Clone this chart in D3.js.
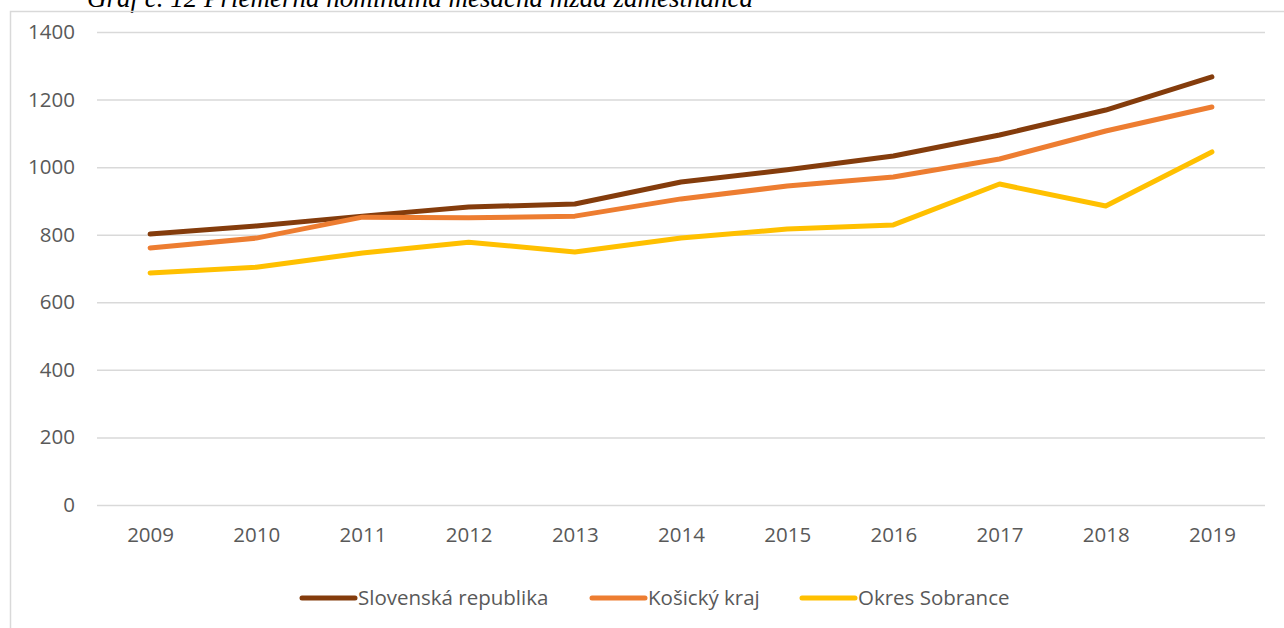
<!DOCTYPE html>
<html lang="sk">
<head>
  <meta charset="UTF-8">
  <title>Priemerná nominálna mesačná mzda</title>
  <style>
    body { margin: 0; background: #fff; }
    svg { display: block; }
    .tick text, .lbl { font-family: "Open Sans", sans-serif; fill: #595959; }
  </style>
</head>
<body>
  <div class="chart"></div>
  <script src="https://cdnjs.cloudflare.com/ajax/libs/d3/7.8.5/d3.min.js"></script>
  <script>
    // data
    const years = ["2009","2010","2011","2012","2013","2014","2015","2016","2017","2018","2019"];
    const slovensko = [802, 826, 855, 882, 891, 956, 992, 1033, 1095, 1169, 1267];
    const kosice    = [761, 790, 852, 850, 855, 906, 944, 971, 1024, 1107, 1178];
    const sobrance  = [687, 704, 746, 778, 749, 790, 817, 829, 950, 885, 1045];
    const yTicks = [0, 200, 400, 600, 800, 1000, 1200, 1400];
    const seriesNames = ["Slovenská republika", "Košický kraj", "Okres Sobrance"];
    const colors = ["#843c0c", "#ed7d31", "#ffc000"];

    const series = [slovensko, kosice, sobrance].map((v, i) => ({
      name: seriesNames[i], color: colors[i], values: v
    }));

    const W = 1284, H = 628;
    const fs = 20.5;
    const svg = d3.select('.chart').append('svg')
      .attr('width', W).attr('height', H);

    // caption, cut off by the top edge like in the source
    svg.append('text')
      .attr('x', 87).attr('y', 7)
      .attr('font-family', '"Liberation Serif", serif')
      .attr('font-style', 'italic')
      .attr('font-size', 27)
      .attr('fill', '#000')
      .text('Graf č. 12 Priemerná nominálna mesačná mzda zamestnanca ¹⁾');

    // chart border
    svg.append('rect')
      .attr('x', 10.5).attr('y', 11.5)
      .attr('width', 1400).attr('height', 800)
      .attr('fill', 'none').attr('stroke', '#d9d9d9').attr('stroke-width', 1.5);

    const x = d3.scalePoint().domain(years).range([97, 1265]).padding(0.5);
    const y = d3.scaleLinear().domain([0, 1400]).range([505, 32]);

    // gridlines + y labels
    const yAxis = svg.append('g')
      .attr('transform', 'translate(97,0)')
      .call(d3.axisLeft(y).tickValues(yTicks).tickFormat(d3.format('d'))
        .tickSize(-(1265 - 97)).tickPadding(22));
    yAxis.select('.domain').remove();
    yAxis.selectAll('.tick line').attr('stroke', '#d9d9d9').attr('stroke-width', 1.5);
    yAxis.selectAll('.tick text').attr('font-size', fs);

    // x labels
    const xAxis = svg.append('g')
      .attr('transform', 'translate(0,505)')
      .call(d3.axisBottom(x).tickSize(0).tickPadding(22));
    xAxis.select('.domain').remove();
    xAxis.selectAll('.tick text').attr('font-size', fs);

    const line = d3.line()
      .x((d, i) => x(years[i]))
      .y(d => y(d));

    svg.selectAll('path.series')
      .data(series)
      .join('path')
      .attr('class', 'series')
      .attr('d', d => line(d.values))
      .attr('fill', 'none')
      .attr('stroke', d => d.color)
      .attr('stroke-width', 5)
      .attr('stroke-linecap', 'round')
      .attr('stroke-linejoin', 'round');

    // legend
    const legendX = [300, 590, 800];
    const lg = svg.selectAll('g.legend')
      .data(series)
      .join('g')
      .attr('class', 'legend')
      .attr('transform', (d, i) => 'translate(' + legendX[i] + ',598)');
    lg.append('line')
      .attr('x1', 2).attr('x2', 55)
      .attr('stroke', d => d.color)
      .attr('stroke-width', 5)
      .attr('stroke-linecap', 'round');
    lg.append('text')
      .attr('class', 'lbl')
      .attr('x', 58).attr('y', 7)
      .attr('font-size', fs)
      .text(d => d.name);
  </script>
</body>
</html>
